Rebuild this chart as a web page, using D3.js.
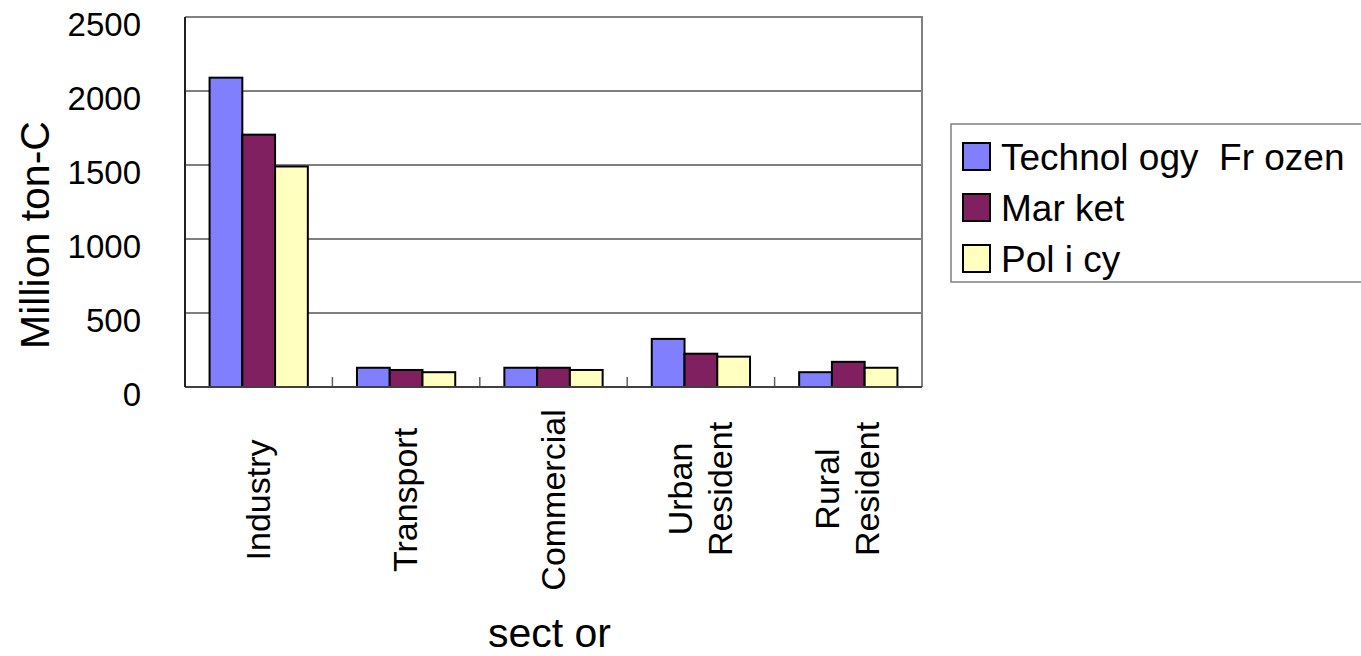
<!DOCTYPE html>
<html>
<head>
<meta charset="utf-8">
<script src="https://cdn.jsdelivr.net/npm/d3@7"></script>
<style>
  body { margin: 0; background: #fff; }
  svg { display: block; font-family: "Liberation Sans", Arial, sans-serif; }
</style>
</head>
<body>
<svg id="chart" width="1361" height="656"></svg>
<script>
// sectors, as shown under the axis (one entry per line)
var sectors = ["Industry", "Transport", "Commercial", "Urban Resident", "Rural Resident"];
var sectorLines = [["Industry"], ["Transport"], ["Commercial"], ["Urban", "Resident"], ["Rural", "Resident"]];
var seriesNames = ["Technol ogy  Fr ozen", "Mar ket", "Pol i cy"];
var seriesColors = ["#8080ff", "#802060", "#ffffc0"];

// Million ton-C
var techFrozen = [2090, 130, 130, 325, 100];
var market = [1705, 115, 130, 225, 170];
var policy = [1490, 100, 115, 205, 130];
var yTicks = [0, 500, 1000, 1500, 2000, 2500];

var series = [techFrozen, market, policy];

var mLeft = 185, mTop = 17, plotW = 737, plotH = 370;

var svg = d3.select("#chart");
var g = svg.append("g").attr("transform", "translate(" + mLeft + "," + mTop + ")");

var x0 = d3.scaleBand()
    .domain(sectors)
    .range([0, plotW]);

var x1 = d3.scaleBand()
    .domain(d3.range(series.length))
    .range([0, x0.bandwidth() * 2 / 3]);

var y = d3.scaleLinear()
    .domain([0, 2500])
    .range([plotH, 0]);

//gridlines
g.selectAll(".grid")
    .data(yTicks.filter(function (d) { return d > 0 && d < 2500; }))
    .enter().append("line")
    .attr("class", "grid")
    .attr("x1", 0).attr("x2", plotW)
    .attr("y1", function (d) { return y(d); })
    .attr("y2", function (d) { return y(d); })
    .attr("stroke", "#000")
    .attr("stroke-width", 1);

//top and right frame
g.append("path")
    .attr("d", "M0," + y(2500) + "H" + plotW + "V" + plotH)
    .attr("fill", "none")
    .attr("stroke", "#808080")
    .attr("stroke-width", 2);

//bars
var groups = g.selectAll(".sector")
    .data(sectors)
    .enter().append("g")
    .attr("class", "sector")
    .attr("transform", function (d) {
        return "translate(" + (x0(d) + x0.bandwidth() / 6) + ",0)";
    });

groups.selectAll("rect")
    .data(function (d, i) {
        return series.map(function (s, j) { return { k: j, v: s[i] }; });
    })
    .enter().append("rect")
    .attr("x", function (d) { return x1(d.k); })
    .attr("width", x1.bandwidth())
    .attr("y", function (d) { return y(d.v); })
    .attr("height", function (d) { return plotH - y(d.v); })
    .attr("fill", function (d) { return seriesColors[d.k]; })
    .attr("stroke", "#000")
    .attr("stroke-width", 2);

//category boundary ticks
g.selectAll(".xtick")
    .data(sectors.slice(1))
    .enter().append("line")
    .attr("x1", function (d) { return x0(d); })
    .attr("x2", function (d) { return x0(d); })
    .attr("y1", plotH).attr("y2", plotH - 10)
    .attr("stroke", "#606060")
    .attr("stroke-width", 1.5);

//axes lines
g.append("line")
    .attr("x1", 0).attr("x2", plotW)
    .attr("y1", plotH).attr("y2", plotH)
    .attr("stroke", "#404040").attr("stroke-width", 2);
g.append("line")
    .attr("x1", 0).attr("x2", 0)
    .attr("y1", 0).attr("y2", plotH)
    .attr("stroke", "#202020").attr("stroke-width", 2);

//y tick labels
g.selectAll(".ylab")
    .data(yTicks)
    .enter().append("text")
    .attr("x", -44)
    .attr("y", function (d) { return y(d) + 19; })
    .attr("text-anchor", "end")
    .style("font-size", "33px")
    .text(function (d) { return d; });

//x labels, rotated
var xl = g.selectAll(".xlab")
    .data(sectorLines)
    .enter().append("text")
    .attr("transform", function (d, i) {
        var cx = x0(sectors[i]) + x0.bandwidth() / 2 + 11;
        var cy = (d.length > 1 ? 489 : 500) - mTop;
        return "translate(" + cx + "," + cy + ") rotate(-90)";
    })
    .attr("text-anchor", "middle")
    .style("font-size", "34px");

xl.selectAll("tspan")
    .data(function (d) {
        return d.map(function (t, j) { return { t: t, off: (j - (d.length - 1) / 2) * 40 }; });
    })
    .enter().append("tspan")
    .attr("x", 0)
    .attr("y", function (d) { return d.off; })
    .text(function (d) { return d.t; });

//axis titles
svg.append("text")
    .attr("transform", "translate(49,235) rotate(-90)")
    .attr("text-anchor", "middle")
    .style("font-size", "41px")
    .text("Million ton-C");

svg.append("text")
    .attr("x", mLeft + plotW / 2 - 4)
    .attr("y", 647)
    .attr("text-anchor", "middle")
    .style("font-size", "41px")
    .text("sect or");

//legend
var legend = svg.append("g").attr("transform", "translate(951,124)");
legend.append("rect")
    .attr("width", 412).attr("height", 158)
    .attr("fill", "#fff")
    .attr("stroke", "#808080")
    .attr("stroke-width", 1.5);

var items = legend.selectAll(".item")
    .data(seriesNames)
    .enter().append("g")
    .attr("transform", function (d, i) { return "translate(12," + (19 + i * 51) + ")"; });

items.append("rect")
    .attr("width", 27).attr("height", 27)
    .attr("fill", function (d, i) { return seriesColors[i]; })
    .attr("stroke", "#000")
    .attr("stroke-width", 2);

items.append("text")
    .attr("x", 38)
    .attr("y", 27)
    .style("font-size", "37px")
    .style("white-space", "pre")
    .attr("xml:space", "preserve")
    .text(function (d) { return d; });
</script>
</body>
</html>
